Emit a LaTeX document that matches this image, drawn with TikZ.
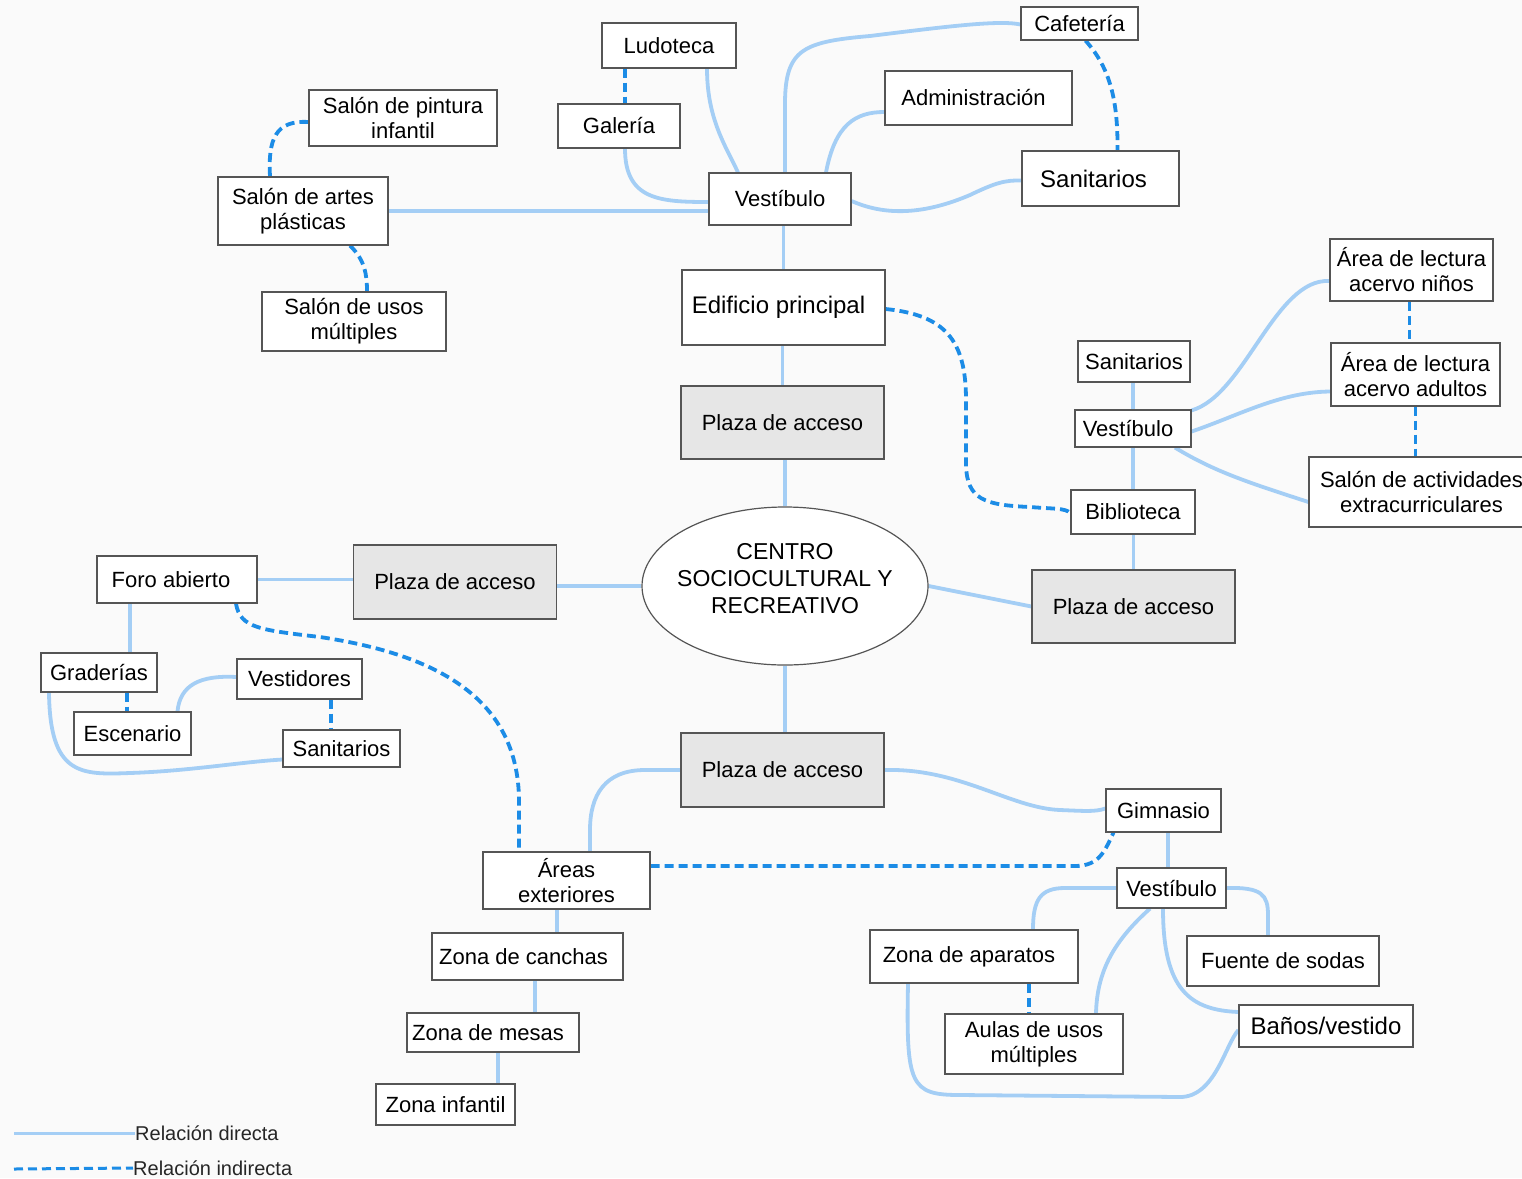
\documentclass[tikz,border=0pt]{standalone}
\usepackage{fontspec}
\setmainfont{Liberation Sans}
\usetikzlibrary{shapes.geometric}
\pgfdeclarelayer{bg}
\pgfdeclarelayer{edges}
\pgfsetlayers{bg,edges,main}
\definecolor{bgc}{RGB}{250,250,250}
\definecolor{solidc}{RGB}{164,206,245}
\definecolor{dashc}{RGB}{28,140,230}
\definecolor{boxc}{RGB}{85,85,85}
\definecolor{plazac}{RGB}{230,230,230}
\begin{document}
\begin{tikzpicture}[x=1pt,y=-1pt,
  box/.style={draw=boxc, fill=white, line width=1.2pt, inner sep=0pt, align=center, font=\fontsize{22}{25}\selectfont},
  big/.style={font=\fontsize{24}{27}\selectfont},
  plaza/.style={box, fill=plazac, minimum width=203pt, minimum height=74pt},
  direct/.style={draw=solidc, line width=3.8pt},
  indirect/.style={draw=dashc, line width=3.8pt, dash pattern=on 9pt off 5pt},
  legtext/.style={inner sep=0pt, anchor=west, font=\fontsize{20}{24}\selectfont, text=black!85},
]
\begin{pgfonlayer}{bg}
\fill[bgc] (0,0) rectangle (1522,1178);
\end{pgfonlayer}
\useasboundingbox (0,0) rectangle (1522,1178);

% ---------- nodes ----------
\node[box, minimum width=134pt, minimum height=45pt] (ludo) at (669,45.5) {Ludoteca};
\node[box, minimum width=122pt, minimum height=44pt] (gale) at (619,126) {Galería};
\node[box, minimum width=188pt, minimum height=56pt] (pint) at (403,118) {Salón de pintura\\infantil};
\node[box, minimum width=170pt, minimum height=68pt] (artes) at (303,211) {Salón de artes\\plásticas};
\node[box, minimum width=184pt, minimum height=59pt] (usos) at (354,321.5) {Salón de usos\\múltiples};
\node[box, minimum width=142pt, minimum height=52pt] (vestT) at (780,199) {Vestíbulo};
\node[box, minimum width=117pt, minimum height=33pt] (cafe) at (1079.5,23.5) {Cafetería};
\node[box, minimum width=187pt, minimum height=54pt] (admin) at (978.5,98) {Administración\hspace*{10pt}};
\node[box, big, minimum width=157pt, minimum height=55pt] (sanT) at (1100.5,178.5) {Sanitarios\hspace*{14pt}};
\node[box, big, minimum width=203pt, minimum height=75pt] (edif) at (783.5,307.5) {Edificio principal\hspace*{10pt}};
\node[plaza, minimum height=73pt] (plazaT) at (782.5,422.5) {Plaza de acceso};
\node[ellipse, draw=boxc, fill=white, line width=1.2pt, inner sep=0pt, minimum width=286pt, minimum height=158pt] (centro) at (785,586) {};
\node[align=center, inner sep=0pt, font=\fontsize{23}{27}\selectfont] (centroTxt) at (785,579) {CENTRO\\SOCIOCULTURAL Y\\RECREATIVO};
\node[plaza] (plazaL) at (455,582) {Plaza de acceso};
\node[plaza, minimum height=73pt] (plazaR) at (1133.5,606.5) {Plaza de acceso};
\node[plaza] (plazaB) at (782.5,770) {Plaza de acceso};
\node[box, minimum width=124pt, minimum height=44pt] (bibl) at (1133,512) {Biblioteca};
\node[box, minimum width=116pt, minimum height=37pt] (vestL) at (1133,428.5) {Vestíbulo\hspace*{10pt}};
\node[box, minimum width=112pt, minimum height=41pt] (sanL) at (1134,361.5) {Sanitarios};
\node[box, minimum width=163pt, minimum height=62pt] (ninos) at (1411.5,270) {Área de lectura\\acervo niños};
\node[box, minimum width=169pt, minimum height=63pt] (adult) at (1415.5,374.5) {Área de lectura\\acervo adultos};
\node[box, minimum width=225pt, minimum height=70pt] (activ) at (1421.5,492) {Salón de actividades\\extracurriculares};
\node[box, minimum width=160pt, minimum height=47pt] (foro) at (177,579.5) {Foro abierto\hspace*{12pt}};
\node[box, minimum width=116pt, minimum height=39pt] (grad) at (99,672.5) {Graderías};
\node[box, minimum width=125pt, minimum height=40pt] (vestid) at (299.5,679) {Vestidores};
\node[box, minimum width=117pt, minimum height=43pt] (escen) at (132.5,733.5) {Escenario};
\node[box, minimum width=117pt, minimum height=37pt] (sanLeft) at (341.5,748.5) {Sanitarios};
\node[box, minimum width=167pt, minimum height=57pt] (areas) at (566.5,880.5) {Áreas\\exteriores};
\node[box, minimum width=191pt, minimum height=47pt] (canchas) at (527.5,956.5) {Zona de canchas\hspace*{8pt}};
\node[box, minimum width=172pt, minimum height=39pt] (mesas) at (493,1032.5) {Zona de mesas\hspace*{10pt}};
\node[box, minimum width=139pt, minimum height=41pt] (infantil) at (445.5,1104.5) {Zona infantil};
\node[box, minimum width=115pt, minimum height=43pt] (gim) at (1163.5,810.5) {Gimnasio};
\node[box, minimum width=109pt, minimum height=40pt] (vestG) at (1171.5,888) {Vestíbulo};
\node[box, minimum width=208pt, minimum height=53pt] (aparatos) at (974,956.5) {Zona de aparatos\hspace*{10pt}};
\node[box, minimum width=192pt, minimum height=50pt] (fuente) at (1283,961) {Fuente de sodas};
\node[box, minimum width=178pt, minimum height=60pt] (aulas) at (1034,1044) {Aulas de usos\\múltiples};
\node[box, big, minimum width=174pt, minimum height=42pt] (banos) at (1326,1026) {Baños/vestido};

% legend
\coordinate (l1) at (14,1133);
\coordinate (l2) at (14,1169);
\node[legtext] (leg1) at (135,1133) {Relación directa};
\node[legtext] (leg2) at (133,1168) {Relación indirecta};

% ---------- connectors ----------
\begin{pgfonlayer}{edges}
% main axis
\draw[direct] (centro.north) -- (centro.north |- plazaT.south);
\draw[direct] (plazaT.north) -- (plazaT.north |- edif.south);
\draw[direct] (edif.north) -- (edif.north |- vestT.south);
% main building
\draw[direct] (artes.east) -- (artes.east -| vestT.west);
\draw[direct] ([xshift=6pt]gale.south) .. controls (625,200) and (660,202) .. ([yshift=-3pt]vestT.west);
\draw[direct] ([xshift=38pt]ludo.south) .. controls (707,118) and (725,145) .. ([xshift=-42pt]vestT.north);
\draw[direct] ([xshift=5pt]vestT.north) -- (785,110) .. controls (784,50) and (800,42) .. (870,36) .. controls (950,26) and (1000,20) .. ([yshift=-1pt]cafe.west);
\draw[direct] ([xshift=46pt]vestT.north) .. controls (835,125) and (855,112) .. ([yshift=-14pt]admin.west);
\draw[direct] ([yshift=-2pt]vestT.east) .. controls (890,218) and (930,212) .. (970,195) .. controls (995,183) and (1005,180) .. ([yshift=-2pt]sanT.west);
\draw[indirect] ([xshift=-44pt]ludo.south) -- ([xshift=6pt]gale.north);
\draw[indirect] ([xshift=6pt]cafe.south) .. controls (1110,68) and (1118,100) .. ([xshift=17pt]sanT.north);
\draw[indirect] ([yshift=-4pt]pint.west) .. controls (275,120) and (268,140) .. ([xshift=-33pt]artes.north);
\draw[indirect] ([xshift=47pt]artes.south) .. controls (365,260) and (367,275) .. ([xshift=13pt]usos.north);
\draw[indirect] ([yshift=-1.5pt]edif.east) .. controls (945,315) and (966,340) .. (966,400) -- (966,465) .. controls (967,500) and (985,505) .. (1030,507) .. controls (1055,509) and (1065,508) .. ([yshift=-1pt]bibl.west);
% library
\draw[direct] (centro.east) -- (plazaR.west);
\draw[direct] (plazaR.north) -- (plazaR.north |- bibl.south);
\draw[direct] (bibl.north) -- (bibl.north |- vestL.south);
\draw[direct] (vestL.north) -- (vestL.north |- sanL.south);
\draw[direct] ([yshift=-1pt]vestL.north east) .. controls (1245,395) and (1275,278) .. ([yshift=-11pt]ninos.west);
\draw[direct] ([yshift=-3pt]vestL.east) .. controls (1240,415) and (1280,392) .. ([yshift=-17pt]adult.west);
\draw[direct] ([xshift=42pt]vestL.south) .. controls (1215,472) and (1250,483) .. ([yshift=-10pt]activ.west);
\draw[indirect] ([xshift=-2pt]ninos.south) -- ([xshift=-2pt]ninos.south |- adult.north);
\draw[indirect] (adult.south) -- (adult.south |- activ.north);
% left
\draw[direct] (centro.west) -- (centro.west -| plazaL.east);
\draw[direct] (plazaL.west |- foro.east) -- (foro.east);
\draw[direct] ([xshift=-47pt]foro.south) -- ([xshift=-47pt]foro.south |- grad.north);
\draw[indirect] ([xshift=28pt]grad.south) -- ([xshift=28pt]grad.south |- escen.north);
\draw[direct] ([xshift=45pt]escen.north) .. controls (180,685) and (200,675) .. ([yshift=2pt]vestid.west);
\draw[indirect] ([xshift=31.5pt]vestid.south) -- ([xshift=31.5pt]vestid.south |- sanLeft.north);
\draw[direct] ([xshift=-50pt]grad.south) .. controls (50,775) and (80,775) .. (130,773) .. controls (190,771) and (240,762) .. ([yshift=-11pt]sanLeft.west);
\draw[indirect] ([xshift=59pt]foro.south) .. controls (240,628) and (260,630) .. (320,637) .. controls (440,655) and (518,700) .. (519,800) -- ([xshift=-47.5pt]areas.north);
% bottom
\draw[direct] (centro.south) -- (centro.south |- plazaB.north);
\draw[direct] (plazaB.west) -- (645,770) .. controls (605,770) and (590,795) .. (590,830) -- ([xshift=23.5pt]areas.north);
\draw[direct] (plazaB.east) .. controls (960,768) and (1010,808) .. (1060,810) .. controls (1085,811) and (1095,812) .. ([yshift=2pt]gim.west);
\draw[indirect] ([yshift=14.5pt]areas.east) -- (1075,866) .. controls (1100,866) and (1105,850) .. ([xshift=-50pt]gim.south);
\draw[direct] ([xshift=-9.5pt]areas.south) -- ([xshift=-9.5pt]areas.south |- canchas.north);
\draw[direct] ([xshift=7.5pt]canchas.south) -- ([xshift=7.5pt]canchas.south |- mesas.north);
\draw[direct] ([xshift=5pt]mesas.south) -- ([xshift=5pt]mesas.south |- infantil.north);
\draw[direct] ([xshift=4.5pt]gim.south) -- ([xshift=4.5pt]gim.south |- vestG.north);
\draw[direct] (vestG.west) -- (1065,888) .. controls (1040,888) and (1033,900) .. ([xshift=59pt]aparatos.north);
\draw[direct] (vestG.east) .. controls (1262,887) and (1268,895) .. (1268,915) -- ([xshift=-15pt]fuente.north);
\draw[direct] ([xshift=-21.5pt]vestG.south) .. controls (1115,940) and (1097,970) .. ([xshift=62pt]aulas.north);
\draw[direct] ([xshift=-8.5pt]vestG.south) .. controls (1163,990) and (1190,1010) .. ([yshift=14pt]banos.west);
\draw[direct] ([xshift=-66pt]aparatos.south) .. controls (906,1085) and (910,1095) .. (960,1095) -- (1180,1097) .. controls (1215,1097) and (1225,1045) .. ([yshift=-4pt]banos.west);
\draw[indirect] ([xshift=55pt]aparatos.south) -- ([xshift=55pt]aparatos.south |- aulas.north);
% legend lines
\draw[direct, line width=3pt] (l1) -- (leg1.west);
\draw[indirect, line width=3pt] (l2) -- (leg2.west);
\end{pgfonlayer}
\end{tikzpicture}
\end{document}
